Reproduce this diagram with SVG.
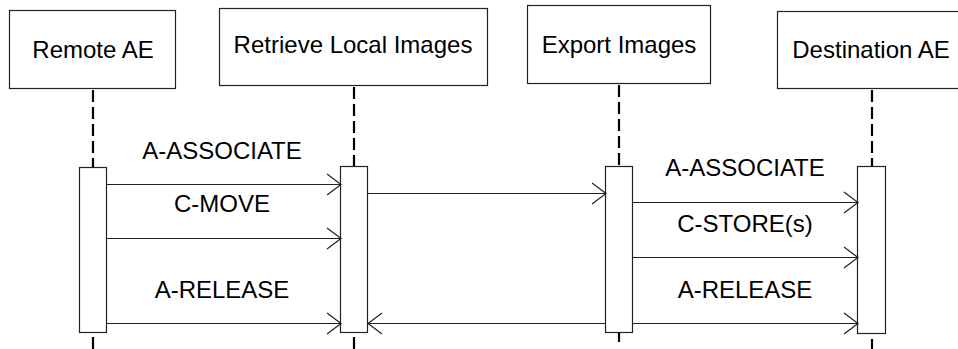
<svg xmlns="http://www.w3.org/2000/svg" width="958" height="349" viewBox="0 0 958 349">
<defs>
<style>
.box{fill:#fff;stroke:#222;stroke-width:1.2}
.act{fill:#fff;stroke:#222;stroke-width:1.2}
.life{stroke:#000;stroke-width:2.2;stroke-dasharray:12 5;fill:none}
.msg{stroke:#222;stroke-width:1.2;fill:none}
.head{stroke:#222;stroke-width:1.2;fill:none}
text{font-family:"Liberation Sans",Arial,sans-serif;font-size:24px;fill:#000;text-anchor:middle}
</style>
</defs>
<rect width="958" height="349" fill="#fff"/>
<g id="lifelines">
<line class="life" x1="93" y1="90" x2="93" y2="167"/>
<line class="life" x1="93" y1="337" x2="93" y2="349"/>
<line class="life" x1="354" y1="87" x2="354" y2="166"/>
<line class="life" x1="354" y1="337" x2="354" y2="349"/>
<line class="life" x1="619" y1="85" x2="619" y2="166"/>
<line class="life" x1="619" y1="332" x2="619" y2="342"/>
<line class="life" x1="872" y1="90" x2="872" y2="166"/>
<line class="life" x1="872" y1="339" x2="872" y2="349"/>
</g>
<g id="remote-ae">
<rect class="box" x="9.5" y="10.5" width="166" height="78"/>
<text x="93" y="58">Remote AE</text>
<rect class="act" x="79.5" y="167.5" width="27" height="165"/>
</g>
<g id="retrieve-local-images">
<rect class="box" x="219.5" y="8.5" width="268" height="77"/>
<text x="353" y="53">Retrieve Local Images</text>
<rect class="act" x="340.5" y="166.5" width="27" height="166"/>
</g>
<g id="export-images">
<rect class="box" x="527.5" y="5.5" width="183" height="78"/>
<text x="619" y="53">Export Images</text>
<rect class="act" x="605.5" y="166.5" width="27" height="166"/>
</g>
<g id="destination-ae">
<rect class="box" x="777.5" y="11.5" width="190" height="77"/>
<text x="871" y="58">Destination AE</text>
<rect class="act" x="857.5" y="166.5" width="28" height="167"/>
</g>
<g id="connectors">
<line class="msg" x1="107" y1="184.5" x2="340" y2="184.5"/>
<polyline class="head" points="327,174 341,184.5 327,195"/>
<line class="msg" x1="107" y1="238.5" x2="340" y2="238.5"/>
<polyline class="head" points="327,228 341,238.5 327,249"/>
<line class="msg" x1="107" y1="323.5" x2="340" y2="323.5"/>
<polyline class="head" points="327,313 341,323.5 327,334"/>
<line class="msg" x1="368" y1="193.5" x2="605" y2="193.5"/>
<polyline class="head" points="592,183 606,193.5 592,204"/>
<line class="msg" x1="368" y1="323.5" x2="605" y2="323.5"/>
<polyline class="head" points="382,313 368,323.5 382,334"/>
<line class="msg" x1="633" y1="202.5" x2="857" y2="202.5"/>
<polyline class="head" points="844,192 858,202.5 844,213"/>
<line class="msg" x1="633" y1="257.5" x2="857" y2="257.5"/>
<polyline class="head" points="844,247 858,257.5 844,268"/>
<line class="msg" x1="633" y1="323.5" x2="857" y2="323.5"/>
<polyline class="head" points="844,313 858,323.5 844,334"/>
</g>
<g id="labels">
<text x="222" y="159">A-ASSOCIATE</text>
<text x="222" y="212">C-MOVE</text>
<text x="222" y="298">A-RELEASE</text>
<text x="745" y="176">A-ASSOCIATE</text>
<text x="745" y="232">C-STORE(s)</text>
<text x="745" y="298">A-RELEASE</text>
</g>
</svg>
